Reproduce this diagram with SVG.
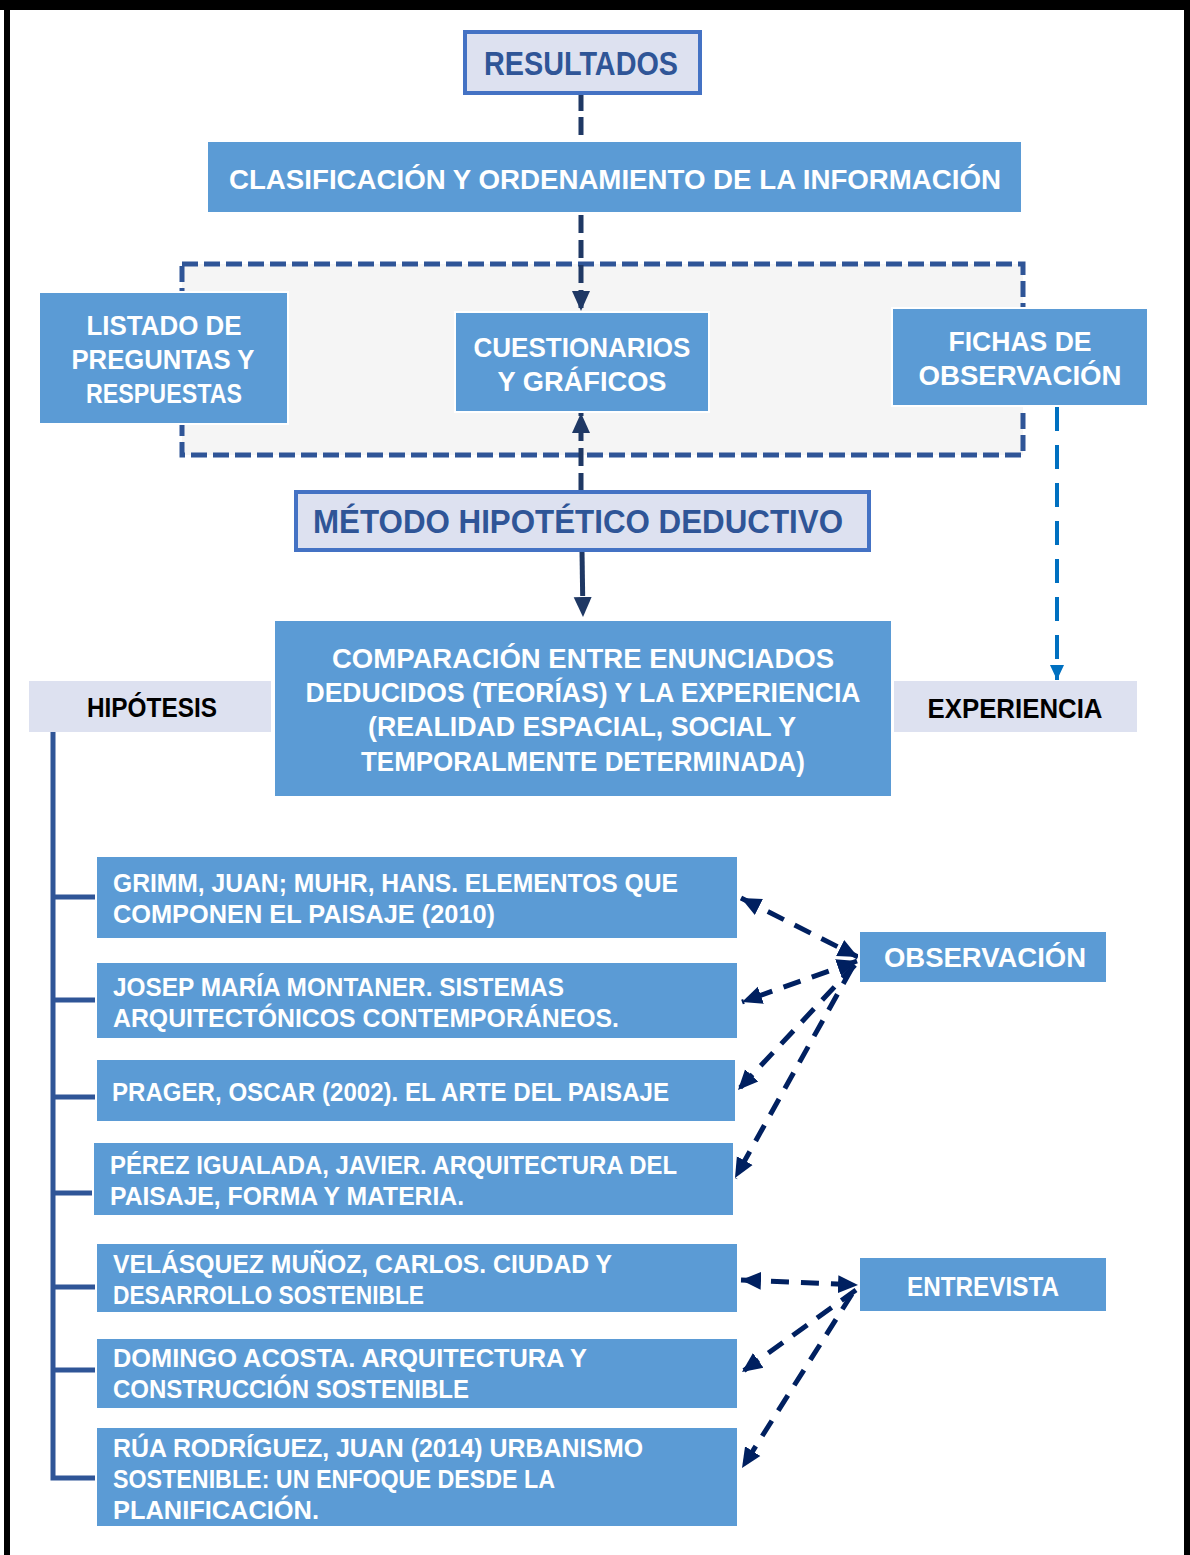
<svg xmlns="http://www.w3.org/2000/svg" width="1190" height="1555" viewBox="0 0 1190 1555">
<style>
.blue{fill:#5b9bd5;stroke:#ffffff;stroke-width:2}
.lav{fill:#dde1f0;stroke:#4472c4;stroke-width:4}
.lab{fill:#dde1f0}
.t{font-family:"Liberation Sans",Arial,sans-serif;font-weight:bold;lengthAdjust:spacingAndGlyphs}
.w{fill:#ffffff;font-size:27px}
.r{fill:#ffffff;font-size:26px}
.d{fill:#2f5597}
.k{fill:#000000;font-size:27px}
.dash{fill:none;stroke:#1f3864;stroke-width:5}
.nav{fill:none;stroke:#002060;stroke-width:5;stroke-dasharray:18 12}
.tree{fill:none;stroke:#2f5597;stroke-width:5}
</style>
<defs>
<marker id="ah" markerUnits="userSpaceOnUse" markerWidth="22" markerHeight="20" refX="20" refY="10" orient="auto-start-reverse" viewBox="0 0 22 20">
<path d="M0,1 L20,10 L0,19 Z" fill="#1f3864"/>
</marker>
<marker id="an" markerUnits="userSpaceOnUse" markerWidth="22" markerHeight="20" refX="20" refY="10" orient="auto-start-reverse" viewBox="0 0 22 20">
<path d="M0,1 L20,10 L0,19 Z" fill="#002060"/>
</marker>
<marker id="ab" markerUnits="userSpaceOnUse" markerWidth="16" markerHeight="14" refX="15" refY="7" orient="auto" viewBox="0 0 16 14">
<path d="M0,0 L15,7 L0,14 Z" fill="#0070c0"/>
</marker>
</defs>
<rect width="1190" height="1555" fill="#ffffff"/>
<g id="frame">
<rect x="0" y="0" width="1190" height="10" fill="#000"/>
<rect x="4" y="0" width="6" height="1555" fill="#000"/>
<rect x="1184" y="0" width="6" height="1555" fill="#000"/>
</g>
<g id="container">
<rect x="182" y="264" width="841" height="191" fill="#f5f5f5" stroke="#2f5597" stroke-width="5" stroke-dasharray="16 6"/>
</g>
<g id="connectors">
<line class="dash" x1="581" y1="93" x2="581" y2="141" stroke-dasharray="18 6"/>
<line class="dash" x1="581" y1="215" x2="581" y2="311" stroke-dasharray="18 7" marker-end="url(#ah)"/>
<line class="dash" x1="581" y1="491" x2="581" y2="413" stroke-dasharray="18 7" marker-end="url(#ah)"/>
<line class="dash" x1="582" y1="551" x2="583" y2="617" stroke-dasharray="45 60" marker-end="url(#ah)"/>
<line x1="1057" y1="407" x2="1057" y2="680" stroke="#0070c0" stroke-width="4" stroke-dasharray="24 14" marker-end="url(#ab)"/>
<path class="tree" d="M53,732 V1478 H96 M53,897 H96 M53,1000 H96 M53,1097 H96 M53,1193 H93 M53,1287 H96 M53,1370 H96"/>
<line class="nav" x1="741" y1="898" x2="858" y2="957" marker-start="url(#an)" marker-end="url(#an)"/>
<line class="nav" x1="857" y1="961" x2="742" y2="1002" marker-start="url(#an)" marker-end="url(#an)"/>
<line class="nav" x1="855" y1="965" x2="738" y2="1090" marker-end="url(#an)"/>
<line class="nav" x1="852" y1="968" x2="735" y2="1178" marker-end="url(#an)"/>
<line class="nav" x1="741" y1="1280" x2="858" y2="1285" marker-start="url(#an)" marker-end="url(#an)"/>
<line class="nav" x1="856" y1="1290" x2="742" y2="1372" marker-end="url(#an)"/>
<line class="nav" x1="852" y1="1294" x2="742" y2="1468" marker-end="url(#an)"/>
</g>
<g id="resultados">
<rect class="lav" x="465" y="32" width="235" height="61"/>
<text class="t d" x="581" y="75" text-anchor="middle" font-size="34" textLength="194" lengthAdjust="spacingAndGlyphs">RESULTADOS</text>
</g>
<g id="clasificacion">
<rect class="blue" x="207" y="141" width="815" height="72"/>
<text class="t w" x="615" y="189" text-anchor="middle" textLength="772" lengthAdjust="spacingAndGlyphs">CLASIFICACIÓN Y ORDENAMIENTO DE LA INFORMACIÓN</text>
</g>
<g id="listado">
<rect class="blue" x="39" y="292" width="249" height="132"/>
<text class="t w" x="164" y="335" text-anchor="middle" textLength="155" lengthAdjust="spacingAndGlyphs">LISTADO DE</text>
<text class="t w" x="163" y="369" text-anchor="middle" textLength="183" lengthAdjust="spacingAndGlyphs">PREGUNTAS Y</text>
<text class="t w" x="164" y="403" text-anchor="middle" textLength="156" lengthAdjust="spacingAndGlyphs">RESPUESTAS</text>
</g>
<g id="cuestionarios">
<rect class="blue" x="455" y="312" width="254" height="100"/>
<text class="t w" x="582" y="357" text-anchor="middle" textLength="217" lengthAdjust="spacingAndGlyphs">CUESTIONARIOS</text>
<text class="t w" x="582" y="391" text-anchor="middle" textLength="169" lengthAdjust="spacingAndGlyphs">Y GRÁFICOS</text>
</g>
<g id="fichas">
<rect class="blue" x="892" y="308" width="256" height="98"/>
<text class="t w" x="1020" y="351" text-anchor="middle" textLength="143" lengthAdjust="spacingAndGlyphs">FICHAS DE</text>
<text class="t w" x="1020" y="385" text-anchor="middle" textLength="203" lengthAdjust="spacingAndGlyphs">OBSERVACIÓN</text>
</g>
<g id="metodo">
<rect class="lav" x="296" y="492" width="573" height="58"/>
<text class="t d" x="578" y="533" text-anchor="middle" font-size="34" textLength="530" lengthAdjust="spacingAndGlyphs">MÉTODO HIPOTÉTICO DEDUCTIVO</text>
</g>
<g id="comparacion">
<rect class="blue" x="274" y="620" width="618" height="177"/>
<text class="t w" x="583" y="668" text-anchor="middle" textLength="502" lengthAdjust="spacingAndGlyphs">COMPARACIÓN ENTRE ENUNCIADOS</text>
<text class="t w" x="583" y="702" text-anchor="middle" textLength="555" lengthAdjust="spacingAndGlyphs">DEDUCIDOS (TEORÍAS) Y LA EXPERIENCIA</text>
<text class="t w" x="582" y="736" text-anchor="middle" textLength="428" lengthAdjust="spacingAndGlyphs">(REALIDAD ESPACIAL, SOCIAL Y</text>
<text class="t w" x="583" y="771" text-anchor="middle" textLength="444" lengthAdjust="spacingAndGlyphs">TEMPORALMENTE DETERMINADA)</text>
</g>
<g id="hipotesis">
<rect class="lab" x="29" y="681" width="242" height="51"/>
<text class="t k" x="152" y="717" text-anchor="middle" textLength="130" lengthAdjust="spacingAndGlyphs">HIPÓTESIS</text>
</g>
<g id="experiencia">
<rect class="lab" x="894" y="681" width="243" height="51"/>
<text class="t k" x="1015" y="718" text-anchor="middle" textLength="175" lengthAdjust="spacingAndGlyphs">EXPERIENCIA</text>
</g>
<g id="ref1">
<rect class="blue" x="96" y="856" width="642" height="83"/>
<text class="t r" x="113" y="892" textLength="565" lengthAdjust="spacingAndGlyphs">GRIMM, JUAN; MUHR, HANS. ELEMENTOS QUE</text>
<text class="t r" x="113" y="923" textLength="382" lengthAdjust="spacingAndGlyphs">COMPONEN EL PAISAJE (2010)</text>
</g>
<g id="ref2">
<rect class="blue" x="96" y="962" width="642" height="77"/>
<text class="t r" x="113" y="996" textLength="451" lengthAdjust="spacingAndGlyphs">JOSEP MARÍA MONTANER. SISTEMAS</text>
<text class="t r" x="113" y="1027" textLength="506" lengthAdjust="spacingAndGlyphs">ARQUITECTÓNICOS CONTEMPORÁNEOS.</text>
</g>
<g id="ref3">
<rect class="blue" x="96" y="1059" width="640" height="63"/>
<text class="t r" x="112" y="1101" textLength="557" lengthAdjust="spacingAndGlyphs">PRAGER, OSCAR (2002). EL ARTE DEL PAISAJE</text>
</g>
<g id="ref4">
<rect class="blue" x="93" y="1142" width="641" height="74"/>
<text class="t r" x="110" y="1174" textLength="567" lengthAdjust="spacingAndGlyphs">PÉREZ IGUALADA, JAVIER. ARQUITECTURA DEL</text>
<text class="t r" x="110" y="1205" textLength="354" lengthAdjust="spacingAndGlyphs">PAISAJE, FORMA Y MATERIA.</text>
</g>
<g id="ref5">
<rect class="blue" x="96" y="1243" width="642" height="70"/>
<text class="t r" x="113" y="1273" textLength="499" lengthAdjust="spacingAndGlyphs">VELÁSQUEZ MUÑOZ, CARLOS. CIUDAD Y</text>
<text class="t r" x="113" y="1304" textLength="311" lengthAdjust="spacingAndGlyphs">DESARROLLO SOSTENIBLE</text>
</g>
<g id="ref6">
<rect class="blue" x="96" y="1338" width="642" height="71"/>
<text class="t r" x="113" y="1367" textLength="474" lengthAdjust="spacingAndGlyphs">DOMINGO ACOSTA. ARQUITECTURA Y</text>
<text class="t r" x="113" y="1398" textLength="356" lengthAdjust="spacingAndGlyphs">CONSTRUCCIÓN SOSTENIBLE</text>
</g>
<g id="ref7">
<rect class="blue" x="96" y="1427" width="642" height="100"/>
<text class="t r" x="113" y="1457" textLength="530" lengthAdjust="spacingAndGlyphs">RÚA RODRÍGUEZ, JUAN (2014) URBANISMO</text>
<text class="t r" x="113" y="1488" textLength="442" lengthAdjust="spacingAndGlyphs">SOSTENIBLE: UN ENFOQUE DESDE LA</text>
<text class="t r" x="113" y="1519" textLength="206" lengthAdjust="spacingAndGlyphs">PLANIFICACIÓN.</text>
</g>
<g id="observacion">
<rect class="blue" x="859" y="931" width="248" height="52"/>
<text class="t w" x="985" y="967" text-anchor="middle" textLength="202" lengthAdjust="spacingAndGlyphs">OBSERVACIÓN</text>
</g>
<g id="entrevista">
<rect class="blue" x="859" y="1257" width="248" height="55"/>
<text class="t w" x="983" y="1296" text-anchor="middle" textLength="152" lengthAdjust="spacingAndGlyphs">ENTREVISTA</text>
</g>
</svg>
